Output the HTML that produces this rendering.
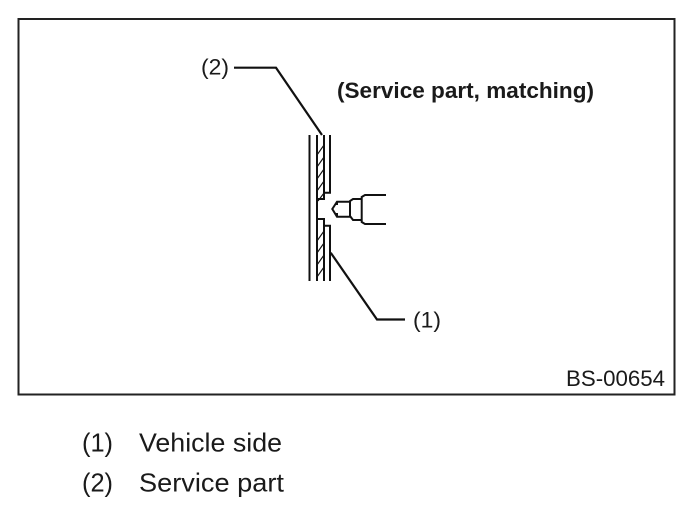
<!DOCTYPE html>
<html>
<head>
<meta charset="utf-8">
<style>
html,body{margin:0;padding:0;background:#fff;}
svg{display:block;}
text{font-family:"Liberation Sans",sans-serif;fill:#1a1a1a;}
</style>
</head>
<body>
<svg width="695" height="522" viewBox="0 0 695 522" xmlns="http://www.w3.org/2000/svg">
<rect x="18.5" y="19" width="656" height="375.5" fill="#fff" stroke="#222" stroke-width="2"/>
<g fill="none" stroke="#111" stroke-width="2">
<path d="M309.5 135V281"/>
<path d="M317 135V281"/>
<path d="M324 135V199H317"/>
<path d="M317 219H324V281"/>
<path d="M330 135V192.7H324"/>
<path d="M324 225.7H330V281"/>
<path d="M324 145L317 155M324 157L317 167M324 169L317 179M324 181L317 191M324 193L318 201M324 231L317 241M324 243L317 253M324 255L317 265M324 267L317 277" stroke-width="1.1"/>
<path d="M386 195H365L361.7 197V222L365 224H386"/>
<path d="M361.7 199H353L350 201V216L353 220H361.7"/>
<path d="M350 201.7H337L332.3 209L337 216.7H350"/>
<path d="M337 201.7V205M337 213V216.7"/>
<path d="M234 67.7H276L322 135" stroke-width="2.2"/>
<path d="M330.7 252.7L377 319.5H405" stroke-width="2.2"/>
</g>
<text x="201" y="74.5" font-size="22.5" textLength="28" lengthAdjust="spacingAndGlyphs">(2)</text>
<text x="337" y="98" font-size="22.5" font-weight="bold" textLength="257" lengthAdjust="spacingAndGlyphs">(Service part, matching)</text>
<text x="413" y="327.5" font-size="22.5" textLength="28" lengthAdjust="spacingAndGlyphs">(1)</text>
<text x="566" y="386" font-size="22" textLength="99" lengthAdjust="spacingAndGlyphs">BS-00654</text>
<text x="82" y="451.5" font-size="26" textLength="31" lengthAdjust="spacingAndGlyphs">(1)</text>
<text x="139" y="451.5" font-size="26" textLength="143" lengthAdjust="spacingAndGlyphs">Vehicle side</text>
<text x="82" y="491.5" font-size="26" textLength="31" lengthAdjust="spacingAndGlyphs">(2)</text>
<text x="139" y="491.5" font-size="26" textLength="145" lengthAdjust="spacingAndGlyphs">Service part</text>
</svg>
</body>
</html>
